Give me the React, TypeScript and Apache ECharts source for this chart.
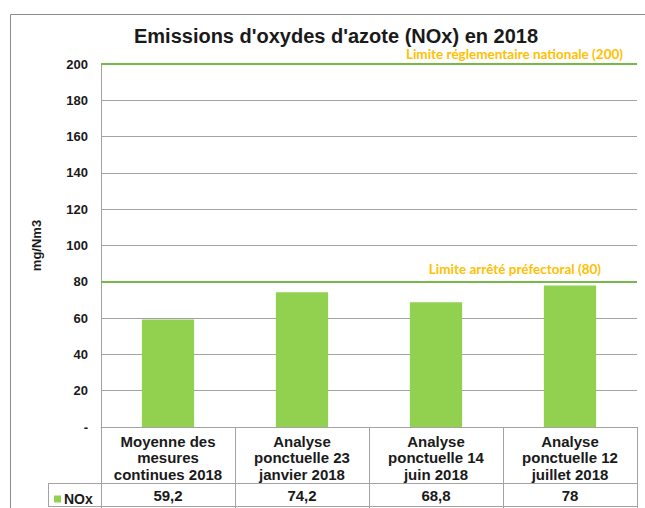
import React, { useEffect, useRef } from "react";
import * as echarts from "echarts";

const categories = [
  "Moyenne des\nmesures\ncontinues 2018",
  "Analyse\nponctuelle 23\njanvier 2018",
  "Analyse\nponctuelle 14\njuin 2018",
  "Analyse\nponctuelle 12\njuillet 2018",
];
const noxValues = [59.2, 74.2, 68.8, 78];
const limits = [
  { value: 200, label: "Limite réglementaire nationale (200)", padRight: 14, dist: 3 },
  { value: 80, label: "Limite arrêté préfectoral (80)", padRight: 36, dist: 6 },
];

const W = 645;
const H = 508;
const GL = 101;
const GR = 8;
const GT = 64;
const GB = 81;
const ROW1 = 56;
const LEG_LEFT = 48;

const GRAY = "#a3a3a3";
const TEXT = "#1a1a1a";
const GREEN_BAR = "#92d050";
const GREEN_LINE = "#76b84a";
const ORANGE = "#ffc000";
const FONT = "'Liberation Sans', Arial, sans-serif";
const FONT_LIM = "Lato, 'Open Sans', sans-serif";

export default function App() {
  const ref = useRef<HTMLDivElement>(null);
  useEffect(() => {
    document.body.style.margin = "0";
    if (!ref.current) return;
    const chart = echarts.init(ref.current, null, { renderer: "svg" });
    const axisY = H - GB;
    const row2 = axisY + ROW1;
    const plotRight = W - GR;
    const fmt = (v: number) => String(v).replace(".", ",");
    chart.setOption({
      animation: false,
      backgroundColor: "#ffffff",
      title: {
        text: "Emissions d'oxydes d'azote (NOx) en 2018",
        left: 331,
        textAlign: "center",
        top: 21,
        textStyle: { fontFamily: FONT, fontWeight: "bold", fontSize: 20, color: TEXT },
      },
      legend: {
        data: ["NOx"],
        left: LEG_LEFT + 1,
        top: row2 + 4,
        icon: "rect",
        itemWidth: 7,
        itemHeight: 7,
        itemGap: 4,
        textStyle: { fontFamily: FONT, fontWeight: "bold", fontSize: 14, color: TEXT, padding: [0, 0, 0, -2] },
      },
      grid: { left: GL, right: GR, top: GT, bottom: GB, containLabel: false },
      xAxis: [
        {
          type: "category",
          data: categories,
          position: "bottom",
          axisLine: { show: true, lineStyle: { color: GRAY, width: 1 } },
          axisTick: { show: true, length: H - axisY + 2, interval: 0, lineStyle: { color: GRAY } },
          axisLabel: {
            interval: 0,
            margin: 6,
            fontFamily: FONT,
            fontWeight: "bold",
            fontSize: 15,
            lineHeight: 16.5,
            color: TEXT,
          },
        },
        {
          type: "category",
          data: noxValues.map(fmt),
          position: "bottom",
          offset: ROW1,
          axisLine: { show: false },
          axisTick: { show: false },
          axisLabel: {
            interval: 0,
            margin: 5,
            fontFamily: FONT,
            fontWeight: "bold",
            fontSize: 15,
            color: TEXT,
          },
        },
      ],
      yAxis: {
        type: "value",
        min: 0,
        max: 200,
        interval: 20,
        name: "mg/Nm3",
        nameLocation: "middle",
        nameGap: 58,
        nameTextStyle: { fontFamily: FONT, fontWeight: "bold", fontSize: 13, color: TEXT },
        axisLine: { show: true, lineStyle: { color: GRAY } },
        axisTick: { show: false },
        splitLine: { show: true, lineStyle: { color: GRAY, width: 1 } },
        axisLabel: {
          margin: 13,
          fontFamily: FONT,
          fontWeight: "bold",
          fontSize: 13,
          color: TEXT,
          formatter: (v: number) => (v === 0 ? "-" : String(v)),
        },
      },
      series: [
        {
          name: "NOx",
          type: "bar",
          data: noxValues,
          barWidth: "39%",
          itemStyle: { color: GREEN_BAR },
          markLine: {
            silent: true,
            symbol: "none",
            lineStyle: { color: GREEN_LINE, width: 2, type: "solid" },
            data: limits.map((l) => ({
              yAxis: l.value,
              label: {
                show: true,
                formatter: l.label,
                position: "insideEndTop",
                distance: [0, l.dist],
                padding: [0, l.padRight, 0, 0],
                color: ORANGE,
                fontFamily: FONT_LIM,
                fontWeight: "bold",
                fontSize: 13.5,
              },
            })),
          },
        },
      ],
      graphic: [
        {
          type: "rect",
          shape: { x: 10.5, y: 14.5, width: 700, height: 600 },
          style: { fill: "none", stroke: "#8c8c8c", lineWidth: 1 },
          silent: true,
        },
        {
          type: "line",
          shape: { x1: LEG_LEFT, y1: row2 + 0.5, x2: plotRight, y2: row2 + 0.5 },
          style: { stroke: GRAY, lineWidth: 1 },
          silent: true,
        },
        {
          type: "line",
          shape: { x1: LEG_LEFT, y1: H - 1.5, x2: plotRight, y2: H - 1.5 },
          style: { stroke: GRAY, lineWidth: 1 },
          silent: true,
        },
        {
          type: "line",
          shape: { x1: LEG_LEFT + 0.5, y1: row2, x2: LEG_LEFT + 0.5, y2: H - 1 },
          style: { stroke: GRAY, lineWidth: 1 },
          silent: true,
        },
      ],
    });
    return () => chart.dispose();
  }, []);
  return <div ref={ref} style={{ width: W, height: H }} />;
}
